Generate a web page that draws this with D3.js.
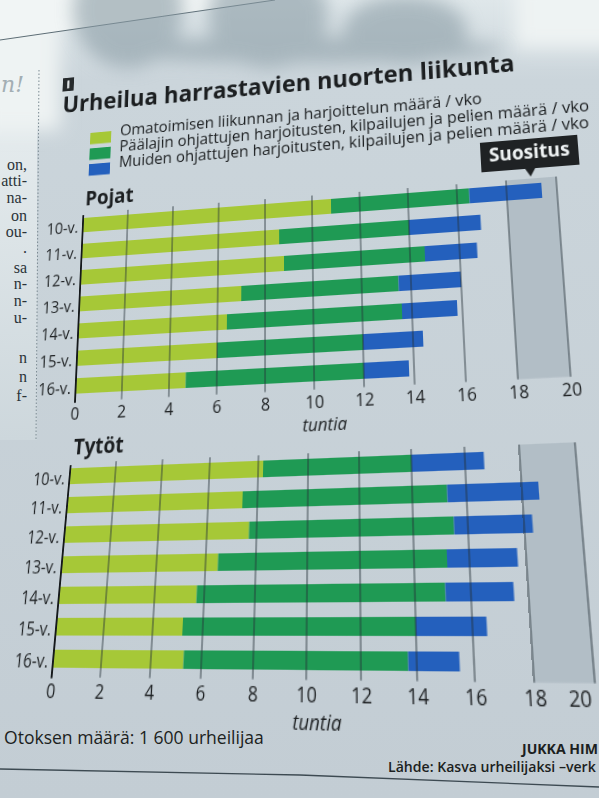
<!DOCTYPE html>
<html lang="fi">
<head>
<meta charset="utf-8">
<script src="https://cdn.jsdelivr.net/npm/d3@7"></script>
<style>
  html, body { margin: 0; width: 599px; height: 798px; overflow: hidden; background: #c6d0d7; }
  #chart svg { position: absolute; left: 0; top: 0; overflow: visible; transform-origin: 0 0; }
</style>
</head>
<body>
<div id="chart"></div>
<script>
// ikäryhmät ja sarjat
const ikaryhmat = ["10-v.", "11-v.", "12-v.", "13-v.", "14-v.", "15-v.", "16-v."];
const sarjat = ["omatoiminen", "paalaji", "muut"];
const legendLabels = [
  "Omatoimisen liikunnan ja harjoittelun määrä / vko",
  "Päälajin ohjattujen harjoitusten, kilpailujen ja pelien määrä / vko",
  "Muiden ohjattujen harjoitusten, kilpailujen ja pelien määrä / vko"
];
// tuntia / vko
const pojatOma = [10.8, 8.6, 8.8, 7.0, 6.4, 6.0, 4.7];
const pojatPaa = [5.7, 5.4, 5.8, 6.5, 7.2, 6.0, 7.3];
const pojatMuu = [2.9, 2.9, 2.1, 2.5, 2.2, 2.4, 1.8];
const tytotOma = [8.2, 7.4, 7.7, 6.5, 5.7, 5.2, 5.3];
const tytotPaa = [5.8, 7.9, 7.8, 8.7, 9.4, 8.8, 8.4];
const tytotMuu = [2.7, 3.3, 2.8, 2.5, 2.4, 2.5, 1.8];
const tickValues = [0, 2, 4, 6, 8, 10, 12, 14, 16, 18, 20];
const suositus = [18, 20];

const colors = ["#a6c837", "#1f9a54", "#2460bd"];
const FONT = "'Open Sans', 'Noto Sans', sans-serif";
const INK = "#1c1f21";

// litteä paneeli: 500 leveä, rivit 27 välein
const PW = 500, STEP = 27, BAR = 15, AXIS = 6 * STEP + BAR + 7.7;

// kuvan perspektiivi: litteän paneelin kulmat -> valokuvan kulmat
const pojatFlat = [[90, 200], [590, 200], [90, 200 + AXIS], [590, 200 + AXIS]];
const pojatPhoto = [[83.2, 218], [556.4, 181.6], [75, 401.7], [570.7, 376.7]];
const tytotFlat = [[60, 40], [560, 40], [60, 40 + AXIS], [560, 40 + AXIS]];
const tytotPhoto = [[70.4, 468.3], [575.4, 448.2], [51.6, 677], [595, 683.3]];

function homography(src, dst) {
  const A = [], B = [];
  src.forEach(([x, y], i) => {
    const [u, v] = dst[i];
    A.push([x, y, 1, 0, 0, 0, -u * x, -u * y]); B.push(u);
    A.push([0, 0, 0, x, y, 1, -v * x, -v * y]); B.push(v);
  });
  for (let c = 0; c < 8; c++) {
    let p = c;
    for (let r = c + 1; r < 8; r++) if (Math.abs(A[r][c]) > Math.abs(A[p][c])) p = r;
    [A[c], A[p]] = [A[p], A[c]]; [B[c], B[p]] = [B[p], B[c]];
    for (let r = 0; r < 8; r++) {
      if (r === c) continue;
      const f = A[r][c] / A[c][c];
      for (let k = c; k < 8; k++) A[r][k] -= f * A[c][k];
      B[r] -= f * B[c];
    }
  }
  const h = B.map((b, i) => b / A[i][i]);
  return `matrix3d(${h[0]},${h[3]},0,${h[6]},${h[1]},${h[4]},0,${h[7]},0,0,1,0,${h[2]},${h[5]},0,1)`;
}

function fit(sel, w) {
  const len = sel.node().getComputedTextLength();
  sel.attr("font-size", parseFloat(sel.attr("font-size")) * w / len);
}

const root = d3.select("#chart");

// --- tausta (valokuvan koordinaatit) ---
const base = root.append("svg").attr("width", 599).attr("height", 798);
const defs = base.append("defs");
const paper = defs.append("linearGradient").attr("id", "paper").attr("x1", 0).attr("y1", 0).attr("x2", 0).attr("y2", 1);
paper.append("stop").attr("offset", "0%").attr("stop-color", "#dfe7ea");
paper.append("stop").attr("offset", "10%").attr("stop-color", "#cbd5db");
paper.append("stop").attr("offset", "100%").attr("stop-color", "#c3cdd4");
const col = defs.append("linearGradient").attr("id", "col").attr("x1", 0).attr("y1", 0).attr("x2", 0).attr("y2", 1);
col.append("stop").attr("offset", "0%").attr("stop-color", "#eef3f4");
col.append("stop").attr("offset", "100%").attr("stop-color", "#cdd7dc");
defs.append("filter").attr("id", "blur").attr("x", "-50%").attr("y", "-50%").attr("width", "200%").attr("height", "200%")
  .append("feGaussianBlur").attr("stdDeviation", 9);

base.append("rect").attr("width", 599).attr("height", 798).attr("fill", "url(#paper)");
base.append("rect").attr("width", 37).attr("height", 440).attr("fill", "url(#col)");
// kirkas yläreuna oikealla ja vasemmalla
base.append("g").attr("filter", "url(#blur)").attr("fill", "#eef3f3").call(g => {
  g.append("rect").attr("x", 515).attr("y", -20).attr("width", 120).attr("height", 68);
  g.append("rect").attr("x", -20).attr("y", -20).attr("width", 80).attr("height", 150);
});
base.append("path").attr("d", "M0,0H275L0,40Z").attr("fill", "#f1f5f5");
base.append("path").attr("d", "M0,40L275,0").attr("stroke", "#5d6d75").attr("stroke-width", 1);

// käden varjo
const shadow = base.append("g").attr("filter", "url(#blur)").attr("fill", "#8a9ca5").attr("opacity", 0.6);
[[128, 10, 55, 58], [268, 16, 60, 52], [405, 30, 62, 34], [300, 50, 205, 13]].forEach(([cx, cy, rx, ry]) =>
  shadow.append("ellipse").attr("cx", cx).attr("cy", cy).attr("rx", rx).attr("ry", ry));

// vasemman palstan katkenneet rivit
base.append("line").attr("x1", 39).attr("y1", 70).attr("x2", 36).attr("y2", 440)
  .attr("stroke", "#7b8a92").attr("stroke-dasharray", "1.5,2").attr("stroke-width", 1);
base.append("text").attr("x", 1).attr("y", 92).attr("font-family", "'DejaVu Serif', serif")
  .attr("font-style", "italic").attr("font-size", 22).attr("fill", "#a3aeb3").text("n!");
const fragments = [["on,", 170], ["atti-", 186], ["na-", 203], ["on", 221], ["ou-", 237], [".", 253],
  ["sa", 273], ["n-", 289], ["n-", 306], ["u-", 323], ["n", 363], ["n", 382], ["f-", 401]];
base.append("g").attr("font-family", "'Liberation Serif', serif").attr("font-size", 16).attr("fill", "#2b3338")
  .attr("text-anchor", "end")
  .selectAll("text").data(fragments).join("text")
  .attr("x", 27).attr("y", d => d[1]).text(d => d[0]);

// alareuna
const otos = base.append("text").attr("x", 4).attr("y", 744).attr("font-family", FONT)
  .attr("font-size", 16).attr("fill", INK).text("Otoksen määrä: 1\u00a0600 urheilijaa");
fit(otos, 260);
base.append("path").attr("d", "M0,769L300,775L599,787").attr("fill", "none")
  .attr("stroke", "#3d4a52").attr("stroke-width", 1.3);
const tekija = base.append("text").attr("x", 522).attr("y", 754).attr("font-family", FONT)
  .attr("font-weight", 700).attr("font-size", 13).attr("fill", INK).text("JUKKA HIM");
fit(tekija, 76);
const lahde = base.append("text").attr("x", 388).attr("y", 772).attr("font-family", FONT)
  .attr("font-weight", 600).attr("font-size", 13).attr("fill", INK).text("Lähde: Kasva urheilijaksi –verk");
fit(lahde, 208);

// --- paneeli ---
function drawPanel(svg, cfg) {
  const rows = ikaryhmat.map((ika, i) => ({ ika, omatoiminen: cfg.oma[i], paalaji: cfg.paa[i], muut: cfg.muu[i] }));
  const stack = d3.stack().keys(sarjat)(rows);
  const axisY = cfg.oy + AXIS;

  const x = d3.scaleLinear().domain([0, 20]).range([cfg.ox, cfg.ox + PW]);
  const y = d3.scaleBand().domain(ikaryhmat)
    .range([cfg.oy, cfg.oy + 6 * STEP + BAR])
    .paddingInner((STEP - BAR) / STEP).paddingOuter(0);

  // suositusalue
  svg.append("rect")
    .attr("x", x(suositus[0])).attr("width", x(suositus[1]) - x(suositus[0]))
    .attr("y", cfg.oy - 5).attr("height", axisY - cfg.oy + 5)
    .attr("fill", "#b2bec6");

  // pinotut palkit
  svg.append("g").selectAll("g").data(stack).join("g")
    .attr("fill", (d, i) => colors[i])
    .selectAll("rect").data(d => d).join("rect")
    .attr("x", d => x(d[0]))
    .attr("width", d => x(d[1]) - x(d[0]))
    .attr("y", d => y(d.data.ika))
    .attr("height", y.bandwidth());

  // apuviivat palkkien päällä
  svg.append("g").selectAll("line").data(tickValues.slice(1)).join("line")
    .attr("x1", d => x(d)).attr("x2", d => x(d))
    .attr("y1", cfg.oy - 5).attr("y2", axisY)
    .attr("stroke", "#27313a").attr("stroke-opacity", 0.85).attr("stroke-width", 1);

  svg.append("line")
    .attr("x1", x(0)).attr("x2", x(0))
    .attr("y1", cfg.oy - 3).attr("y2", axisY + 1)
    .attr("stroke", "#15191b").attr("stroke-width", 2);

  // x-akselin numerot
  const xAxis = svg.append("g").attr("transform", `translate(0,${axisY})`)
    .call(d3.axisBottom(x).tickValues(tickValues).tickSize(0).tickPadding(6));
  xAxis.select(".domain").remove();
  xAxis.attr("font-family", FONT).attr("font-size", 16.5);
  xAxis.selectAll("text").attr("fill", INK);
  if (cfg.lastEnd !== undefined) {
    xAxis.selectAll(".tick").filter(d => d === 20).select("text")
      .attr("text-anchor", "end").attr("x", cfg.lastEnd);
  }

  // ikäryhmät
  const yAxis = svg.append("g").attr("transform", `translate(${x(0)},2)`)
    .call(d3.axisLeft(y).tickSize(0).tickPadding(5));
  yAxis.select(".domain").remove();
  yAxis.attr("font-family", FONT).attr("font-size", 16);
  yAxis.selectAll("text").attr("fill", INK);

  svg.append("text")
    .attr("x", x(0) + 1.5).attr("y", cfg.oy - 13)
    .attr("font-family", FONT).attr("font-weight", 700).attr("font-size", 21)
    .attr("fill", INK).text(cfg.title);

  svg.append("text")
    .attr("x", x(10.4)).attr("y", axisY + 38)
    .attr("text-anchor", "middle").attr("font-family", FONT)
    .attr("font-style", "italic").attr("font-size", 17)
    .attr("fill", INK).text("tuntia");

  return x;
}

// --- otsikko ja pojat (sama paperin taso) ---
const pojat = root.append("svg").attr("width", 640).attr("height", 440)
  .style("transform", homography(pojatFlat, pojatPhoto));

pojat.append("rect").attr("x", 59).attr("y", 45).attr("width", 13).attr("height", 15).attr("fill", "#262a2c");
pojat.append("text").attr("x", 65.5).attr("y", 57.5).attr("text-anchor", "middle")
  .attr("font-family", FONT).attr("font-weight", 800).attr("font-size", 12).attr("fill", "#e9eef0").text("i");

const title = pojat.append("text").attr("x", 60).attr("y", 84)
  .attr("font-family", FONT).attr("font-weight", 700).attr("font-size", 24)
  .attr("fill", INK).text("Urheilua harrastavien nuorten liikunta");
fit(title, 496);

pojat.append("g").selectAll("rect").data(legendLabels).join("rect")
  .attr("x", 94).attr("y", (d, i) => 109 + i * 17)
  .attr("width", 24).attr("height", 12.5)
  .attr("fill", (d, i) => colors[i]);
const legendText = pojat.append("g").attr("font-family", FONT).attr("font-size", 14).attr("fill", INK)
  .selectAll("text").data(legendLabels).join("text")
  .attr("x", 128).attr("y", (d, i) => 115 + i * 17.2)
  .text(d => d);
const legendLen = legendText.nodes()[0].getComputedTextLength();
legendText.attr("font-size", 14 * 392 / legendLen);

const xP = drawPanel(pojat, { ox: 90, oy: 200, title: "Pojat", oma: pojatOma, paa: pojatPaa, muu: pojatMuu });

// suositus-lappu
const sx = xP((suositus[0] + suositus[1]) / 2);
const tipY = 194;
pojat.append("path")
  .attr("d", `M${sx - 49},${tipY - 39}h98v30h-${49 - 5}l-5,8l-5,-8h-${49 - 5}z`)
  .attr("fill", "#1f2224");
const suo = pojat.append("text").attr("x", sx).attr("y", tipY - 18.5).attr("text-anchor", "middle")
  .attr("font-family", FONT).attr("font-weight", 700).attr("font-size", 16)
  .attr("fill", "#eef2f3").text("Suositus");
fit(suo, 81);

// --- tytöt ---
const tytot = root.append("svg").attr("width", 620).attr("height", 290)
  .style("transform", homography(tytotFlat, tytotPhoto));
drawPanel(tytot, { ox: 60, oy: 40, title: "Tytöt", oma: tytotOma, paa: tytotPaa, muu: tytotMuu, lastEnd: -4 });
</script>
</body>
</html>
